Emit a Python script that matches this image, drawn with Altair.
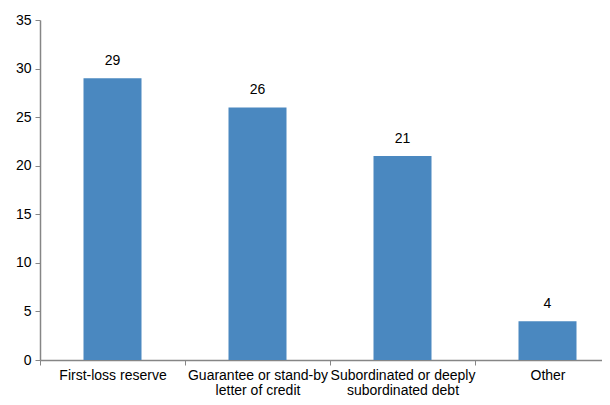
import altair as alt
import pandas as pd

categories = [
    "First-loss reserve",
    "Guarantee or stand-by\nletter of credit",
    "Subordinated or deeply\nsubordinated debt",
    "Other",
]
values = [29, 26, 21, 4]

df = pd.DataFrame({"cat": categories, "val": values})

FONT = "Liberation Sans"
AXIS_COLOR = "#868686"

x = alt.X(
    "cat:N",
    sort=categories,
    scale=alt.Scale(paddingInner=0, paddingOuter=0, range=[0, 580]),
    axis=alt.Axis(
        title=None,
        labelAngle=0,
        labelExpr="split(datum.label, '\\n')",
        labelFontSize=14,
        labelColor="#000000",
        labelFont=FONT,
        labelPadding=3,
        labelLineHeight=15,
        tickBand="extent",
        tickSize=5,
        tickColor=AXIS_COLOR,
        domainColor=AXIS_COLOR,
        domainWidth=1.5,
        grid=False,
    ),
)
y = alt.Y(
    "val:Q",
    scale=alt.Scale(domain=[0, 35], nice=False),
    axis=alt.Axis(
        title=None,
        values=[0, 5, 10, 15, 20, 25, 30, 35],
        labelFontSize=14,
        labelColor="#000000",
        labelFont=FONT,
        labelPadding=4,
        tickSize=5,
        tickColor=AXIS_COLOR,
        domainColor=AXIS_COLOR,
        domainWidth=1.5,
        grid=False,
    ),
)

bars = alt.Chart(df).mark_bar(color="#4A88C0", width=alt.RelativeBandSize(0.4)).encode(x=x, y=y)
labels = alt.Chart(df).mark_text(
    dy=-10, baseline="bottom", fontSize=14, font=FONT, color="#000000"
).encode(x=alt.X("cat:N", sort=categories), y="val:Q", text="val:Q")

chart = (
    (bars + labels)
    .properties(
        width=562,
        height=340,
        autosize=alt.AutoSizeParams(type="none"),
        padding={"left": 32, "top": 12, "right": 0, "bottom": 37},
    )
    .configure_view(stroke=None)
)

chart.save("out.html", embed_options={"renderer": "svg", "actions": False})
